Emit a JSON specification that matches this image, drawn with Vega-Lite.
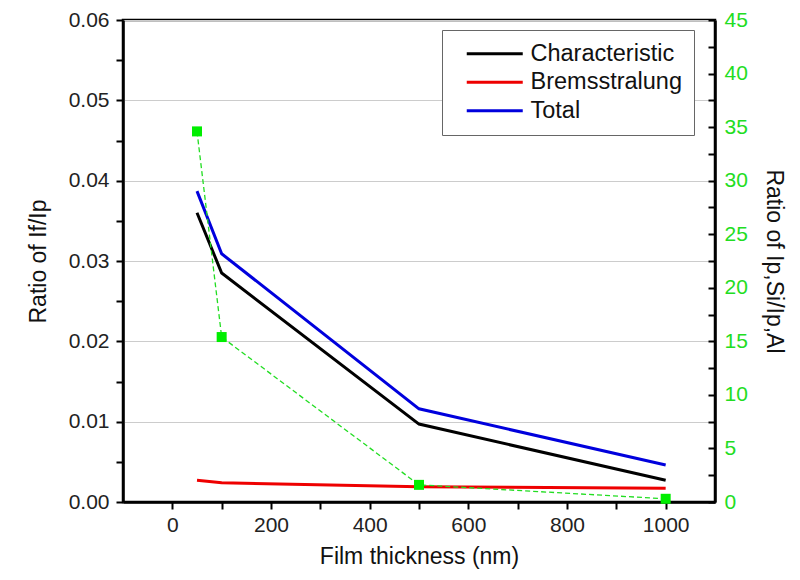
{
  "$schema": "https://vega.github.io/schema/vega-lite/v6.json",
  "width": 592,
  "height": 482,
  "autosize": "none",
  "padding": {"left": 123, "top": 20, "right": 85, "bottom": 78},
  "background": "white",
  "config": {
    "font": "Liberation Sans",
    "view": {"stroke": "black", "strokeWidth": 2.5}
  },
  "datasets": {
    "intensity": [
      {"thickness": 50, "series": "Characteristic", "ratio": 0.036},
      {"thickness": 100, "series": "Characteristic", "ratio": 0.0285},
      {"thickness": 500, "series": "Characteristic", "ratio": 0.0097},
      {"thickness": 1000, "series": "Characteristic", "ratio": 0.0027},
      {"thickness": 50, "series": "Bremsstralung", "ratio": 0.0027},
      {"thickness": 100, "series": "Bremsstralung", "ratio": 0.0024},
      {"thickness": 500, "series": "Bremsstralung", "ratio": 0.0019},
      {"thickness": 1000, "series": "Bremsstralung", "ratio": 0.0017},
      {"thickness": 50, "series": "Total", "ratio": 0.0387},
      {"thickness": 100, "series": "Total", "ratio": 0.0309},
      {"thickness": 500, "series": "Total", "ratio": 0.0116},
      {"thickness": 1000, "series": "Total", "ratio": 0.0046}
    ],
    "siAl": [
      {"thickness": 50, "ratio": 34.6},
      {"thickness": 100, "ratio": 15.4},
      {"thickness": 500, "ratio": 1.6},
      {"thickness": 1000, "ratio": 0.3}
    ]
  },
  "layer": [
    {
      "data": {"name": "intensity"},
      "mark": {"type": "line", "strokeWidth": 3, "clip": true},
      "encoding": {
        "x": {
          "field": "thickness",
          "type": "quantitative",
          "scale": {"domain": [-100, 1100], "nice": false, "zero": false},
          "axis": {
            "title": "Film thickness (nm)",
            "values": [0, 100, 200, 300, 400, 500, 600, 700, 800, 900, 1000],
            "labelExpr": "datum.value % 200 === 0 ? format(datum.value, 'd') : ''",
            "domainColor": "black",
            "domainWidth": 2.5,
            "ticks": true,
            "tickColor": "black",
            "tickWidth": 2,
            "tickSize": 7,
            "labelFont": "Liberation Sans",
            "labelFontSize": 21,
            "labelColor": "#222222",
            "labelPadding": 5,
            "titleFont": "Liberation Sans",
            "titleFontSize": 23,
            "titleFontWeight": "normal",
            "titleColor": "#111111",
            "titlePadding": 10,
            "grid": false
          }
        },
        "y": {
          "field": "ratio",
          "type": "quantitative",
          "scale": {"domain": [0, 0.06], "nice": false},
          "axis": {
            "title": "Ratio of If/Ip",
            "values": [0, 0.005, 0.01, 0.015, 0.02, 0.025, 0.03, 0.035, 0.04, 0.045, 0.05, 0.055, 0.06],
            "labelExpr": "round(datum.value * 1000) % 10 === 0 ? format(datum.value, '.2f') : ''",
            "domainColor": "black",
            "domainWidth": 2.5,
            "ticks": true,
            "tickColor": "black",
            "tickWidth": 2,
            "tickSize": 7,
            "labelFont": "Liberation Sans",
            "labelFontSize": 21,
            "labelColor": "#222222",
            "labelPadding": 7,
            "titleFont": "Liberation Sans",
            "titleFontSize": 23,
            "titleFontWeight": "normal",
            "titleColor": "#111111",
            "titlePadding": 18,
            "grid": true,
            "gridColor": "#cccccc",
            "gridWidth": 1,
            "gridOpacity": {"condition": {"test": "round(datum.value * 1000) % 10 === 0", "value": 1}, "value": 0}
          }
        },
        "color": {
          "field": "series",
          "type": "nominal",
          "scale": {"domain": ["Characteristic", "Bremsstralung", "Total"], "range": ["black", "#ee0000", "#0000dd"]},
          "legend": {
            "title": null,
            "orient": "none",
            "legendX": 319,
            "legendY": 10,
            "strokeColor": "#666666",
            "fillColor": "white",
            "padding": 12,
            "symbolType": "M0.1,0H5.7",
            "symbolSize": 400,
            "symbolStrokeWidth": 3,
            "labelFontSize": 23.5,
            "labelColor": "#111111",
            "labelFont": "Liberation Sans",
            "rowPadding": 3.5,
            "labelOffset": 53
          }
        }
      }
    },
    {
      "data": {"name": "siAl"},
      "encoding": {
        "x": {"field": "thickness", "type": "quantitative"},
        "y": {
          "field": "ratio",
          "type": "quantitative",
          "scale": {"domain": [0, 45], "nice": false},
          "axis": {
            "orient": "right",
            "title": "Ratio of Ip,Si/Ip,Al",
            "titleAngle": 90,
            "values": [0, 2.5, 5, 7.5, 10, 12.5, 15, 17.5, 20, 22.5, 25, 27.5, 30, 32.5, 35, 37.5, 40, 42.5, 45],
            "labelExpr": "datum.value % 5 === 0 ? datum.label : ''",
            "domainColor": "black",
            "domainWidth": 2.5,
            "ticks": true,
            "tickColor": "black",
            "tickWidth": 2,
            "tickSize": -7,
            "labelFont": "Liberation Sans",
            "labelFontSize": 21,
            "labelColor": "#22dd22",
            "labelPadding": 16,
            "titleFont": "Liberation Sans",
            "titleFontSize": 23,
            "titleFontWeight": "normal",
            "titleColor": "#111111",
            "titlePadding": 14,
            "grid": false
          }
        }
      },
      "layer": [
        {"mark": {"type": "line", "color": "#22dd22", "strokeWidth": 1.3, "strokeDash": [5, 3]}},
        {"mark": {"type": "point", "shape": "square", "filled": true, "size": 100, "color": "#00ee00", "opacity": 1}}
      ]
    }
  ],
  "resolve": {"scale": {"y": "independent"}}
}
